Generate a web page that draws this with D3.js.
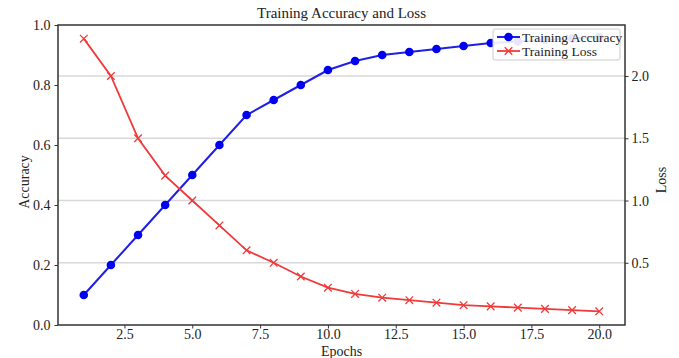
<!DOCTYPE html>
<html>
<head>
<meta charset="utf-8">
<script src="https://cdn.jsdelivr.net/npm/d3@7"></script>
<style>
  body { margin: 0; background: #fff; }
  text { font-family: "Liberation Serif", "Times New Roman", serif; fill: #222; }
</style>
</head>
<body>
<svg id="chart" width="679" height="358"></svg>
<script>
const epochs = [1,2,3,4,5,6,7,8,9,10,11,12,13,14,15,16,17,18,19,20];
const accuracy = [0.10,0.20,0.30,0.40,0.50,0.60,0.70,0.75,0.80,0.85,0.88,0.90,0.91,0.92,0.93,0.94,0.945,0.95,0.955,0.96];
const loss = [2.30,2.00,1.50,1.20,1.00,0.80,0.60,0.50,0.39,0.30,0.25,0.22,0.20,0.18,0.16,0.15,0.14,0.13,0.12,0.11];
const xTicks = [2.5,5.0,7.5,10.0,12.5,15.0,17.5,20.0];
const accTicks = [0.0,0.2,0.4,0.6,0.8,1.0];
const lossTicks = [0.5,1.0,1.5,2.0];
const titleText = "Training Accuracy and Loss";
const seriesNames = ["Training Accuracy","Training Loss"];

const svg = d3.select("#chart");
const L = 58, R = 625, T = 25, B = 325;

const x = d3.scaleLinear().domain([0.05, 20.95]).range([L, R]);
const yL = d3.scaleLinear().domain([0, 1]).range([B, T]);
const yR = d3.scaleLinear().domain([0.0005, 2.4095]).range([B, T]);

// gridlines from right axis
svg.append("g").selectAll("line").data(lossTicks).join("line")
  .attr("x1", L).attr("x2", R)
  .attr("y1", d => yR(d)).attr("y2", d => yR(d))
  .attr("stroke", "#d8d8d8").attr("stroke-width", 1.5);

// lines
const accData = epochs.map((e,i)=>[e, accuracy[i]]);
const lossData = epochs.map((e,i)=>[e, loss[i]]);

svg.append("path").datum(accData)
  .attr("fill","none").attr("stroke","#1f1fe6").attr("stroke-width",2)
  .attr("d", d3.line().x(d=>x(d[0])).y(d=>yL(d[1])));
svg.append("g").selectAll("circle").data(accData).join("circle")
  .attr("cx", d=>x(d[0])).attr("cy", d=>yL(d[1])).attr("r", 4.3)
  .attr("fill","#0000f0");

svg.append("path").datum(lossData)
  .attr("fill","none").attr("stroke","#f03a3a").attr("stroke-width",1.8)
  .attr("d", d3.line().x(d=>x(d[0])).y(d=>yR(d[1])));
const xm = 3.8;
svg.append("g").selectAll("path").data(lossData).join("path")
  .attr("d", d => {
    const cx = x(d[0]), cy = yR(d[1]);
    return `M${cx-xm},${cy-xm}L${cx+xm},${cy+xm}M${cx-xm},${cy+xm}L${cx+xm},${cy-xm}`;
  })
  .attr("stroke","#f03a3a").attr("stroke-width",1.3).attr("fill","none");

// axes
const fmt = d3.format(".1f");
const gx = svg.append("g").attr("transform", `translate(0,${B})`)
  .call(d3.axisBottom(x).tickValues(xTicks).tickFormat(fmt).tickSizeOuter(0).tickSize(3.5));
const gl = svg.append("g").attr("transform", `translate(${L},0)`)
  .call(d3.axisLeft(yL).tickValues(accTicks).tickFormat(fmt).tickSizeOuter(0).tickSize(3.5));
const gr = svg.append("g").attr("transform", `translate(${R},0)`)
  .call(d3.axisRight(yR).tickValues(lossTicks).tickFormat(fmt).tickSizeOuter(0).tickSize(3.5));
[gx, gl, gr].forEach(g => {
  g.select(".domain").remove();
  g.selectAll("line").attr("stroke","#333").attr("stroke-width",1);
  g.selectAll("text").attr("font-size", 14).attr("font-family","Liberation Serif, serif").attr("fill","#222");
});
gx.selectAll("text").attr("dy","0.55em");
gl.selectAll("text").attr("dx","-1");

// frame
svg.append("rect").attr("x", L).attr("y", T).attr("width", R-L).attr("height", B-T)
  .attr("fill","none").attr("stroke","#333").attr("stroke-width",1.5);

// title and labels
svg.append("text").attr("x", (L+R)/2).attr("y", 18).attr("text-anchor","middle")
  .attr("font-size", 15).text(titleText);
svg.append("text").attr("x", (L+R)/2).attr("y", 356).attr("text-anchor","middle")
  .attr("font-size", 14).text("Epochs");
svg.append("text").attr("transform", `translate(29,182) rotate(-90)`).attr("text-anchor","middle")
  .attr("font-size", 14).text("Accuracy");
svg.append("text").attr("transform", `translate(666,180) rotate(-90)`).attr("text-anchor","middle")
  .attr("font-size", 14).text("Loss");

// legend
const lg = svg.append("g");
lg.append("rect").attr("x", 493).attr("y", 29).attr("width", 127).attr("height", 31)
  .attr("rx", 2).attr("fill","rgba(255,255,255,0.9)").attr("stroke","#cccccc").attr("stroke-width",1);
const rows = [
  {name: seriesNames[0], color:"#1f1fe6", y: 37, marker:"circle"},
  {name: seriesNames[1], color:"#f03a3a", y: 51, marker:"x"}
];
rows.forEach(r => {
  lg.append("line").attr("x1", 497).attr("x2", 520).attr("y1", r.y).attr("y2", r.y)
    .attr("stroke", r.color).attr("stroke-width", r.marker==="circle"?2:1.8);
  if (r.marker === "circle") {
    lg.append("circle").attr("cx", 508.5).attr("cy", r.y).attr("r", 4.3).attr("fill","#0000f0");
  } else {
    const cx = 508.5, cy = r.y;
    lg.append("path").attr("d", `M${cx-xm},${cy-xm}L${cx+xm},${cy+xm}M${cx-xm},${cy+xm}L${cx+xm},${cy-xm}`)
      .attr("stroke", r.color).attr("stroke-width",1.3);
  }
  lg.append("text").attr("x", 522).attr("y", r.y + 4.5).attr("font-size", 13.5).text(r.name);
});
</script>
</body>
</html>
